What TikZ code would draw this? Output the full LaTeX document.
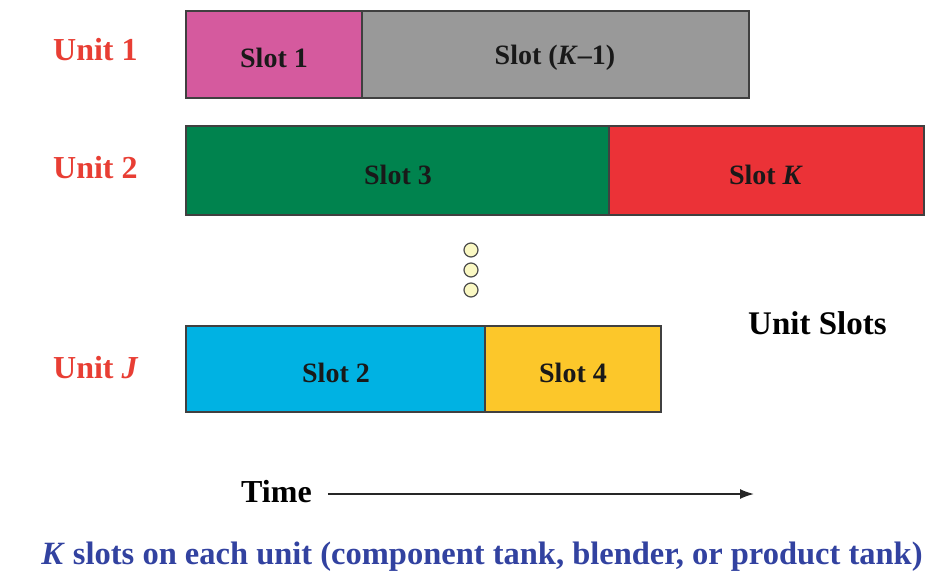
\documentclass[tikz,border=0pt]{standalone}
\usepackage{fontspec}
\setmainfont{Liberation Serif}
\usetikzlibrary{arrows.meta}
\definecolor{unitred}{RGB}{232,62,52}
\definecolor{botblue}{RGB}{50,66,160}
\definecolor{spink}{RGB}{213,90,158}
\definecolor{sgray}{RGB}{153,153,153}
\definecolor{sgreen}{RGB}{0,131,78}
\definecolor{sred}{RGB}{235,50,55}
\definecolor{scyan}{RGB}{0,178,227}
\definecolor{syellow}{RGB}{252,199,42}
\definecolor{dotfill}{RGB}{250,248,195}
\tikzset{
  slotbox/.style={draw=black!75, line width=1.2pt},
  slottext/.style={font=\bfseries\fontsize{28}{30}\selectfont, text=black!90, inner sep=0pt},
  unitlabel/.style={font=\bfseries\fontsize{32}{36}\selectfont, text=unitred, anchor=west, inner sep=0pt},
  dotmark/.style={circle, draw=black!70, fill=dotfill, line width=1.2pt, minimum size=14pt, inner sep=0pt},
}
\begin{document}
\begin{tikzpicture}[x=1pt,y=-1pt]
\useasboundingbox (0,0) rectangle (940,582);
% Unit 1
\draw[slotbox, fill=spink] (186,11) rectangle (362,98);
\draw[slotbox, fill=sgray] (362,11) rectangle (749,98);
\node[slottext] (s1) at (274,58) {Slot 1};
\node[slottext] (sk1) at (555,58) {Slot (\textit{K}–1)};
% Unit 2
\draw[slotbox, fill=sgreen] (186,126) rectangle (609,215);
\draw[slotbox, fill=sred] (609,126) rectangle (924,215);
\node[slottext] (s3) at (398,175) {Slot 3};
\node[slottext] (sk) at (766,175) {Slot \textit{K}};
% Unit J
\draw[slotbox, fill=scyan] (186,326) rectangle (485,412);
\draw[slotbox, fill=syellow] (485,326) rectangle (661,412);
\node[slottext] (s2) at (336,373) {Slot 2};
\node[slottext] (s4) at (573,373) {Slot 4};
% unit labels
\node[unitlabel] (u1) at (53,50) {Unit 1};
\node[unitlabel] (u2) at (53,168) {Unit 2};
\node[unitlabel] (uj) at (53,368) {Unit \textit{J}};
% dots
\node[dotmark] (d1) at (471,250) {};
\node[dotmark] (d2) at (471,270) {};
\node[dotmark] (d3) at (471,290) {};
% unit slots
\node[font=\bfseries\fontsize{33}{36}\selectfont, anchor=west, inner sep=0pt] (us) at (748,323) {Unit Slots};
% time
\node[font=\bfseries\fontsize{32}{36}\selectfont, anchor=west, inner sep=0pt] (time) at (241,492) {Time};
\coordinate (tend) at (754,494);
\draw[line width=1.6pt, black!85, -{Latex[length=14pt,width=10pt]}] (time.east) ++(16,2) coordinate (tstart) -- (tend);
% bottom
\node[font=\bfseries\fontsize{32.5}{36}\selectfont, text=botblue, inner sep=0pt] (cap) at (482,557) {\textit{K} slots on each unit (component tank, blender, or product tank)};
\end{tikzpicture}
\end{document}
